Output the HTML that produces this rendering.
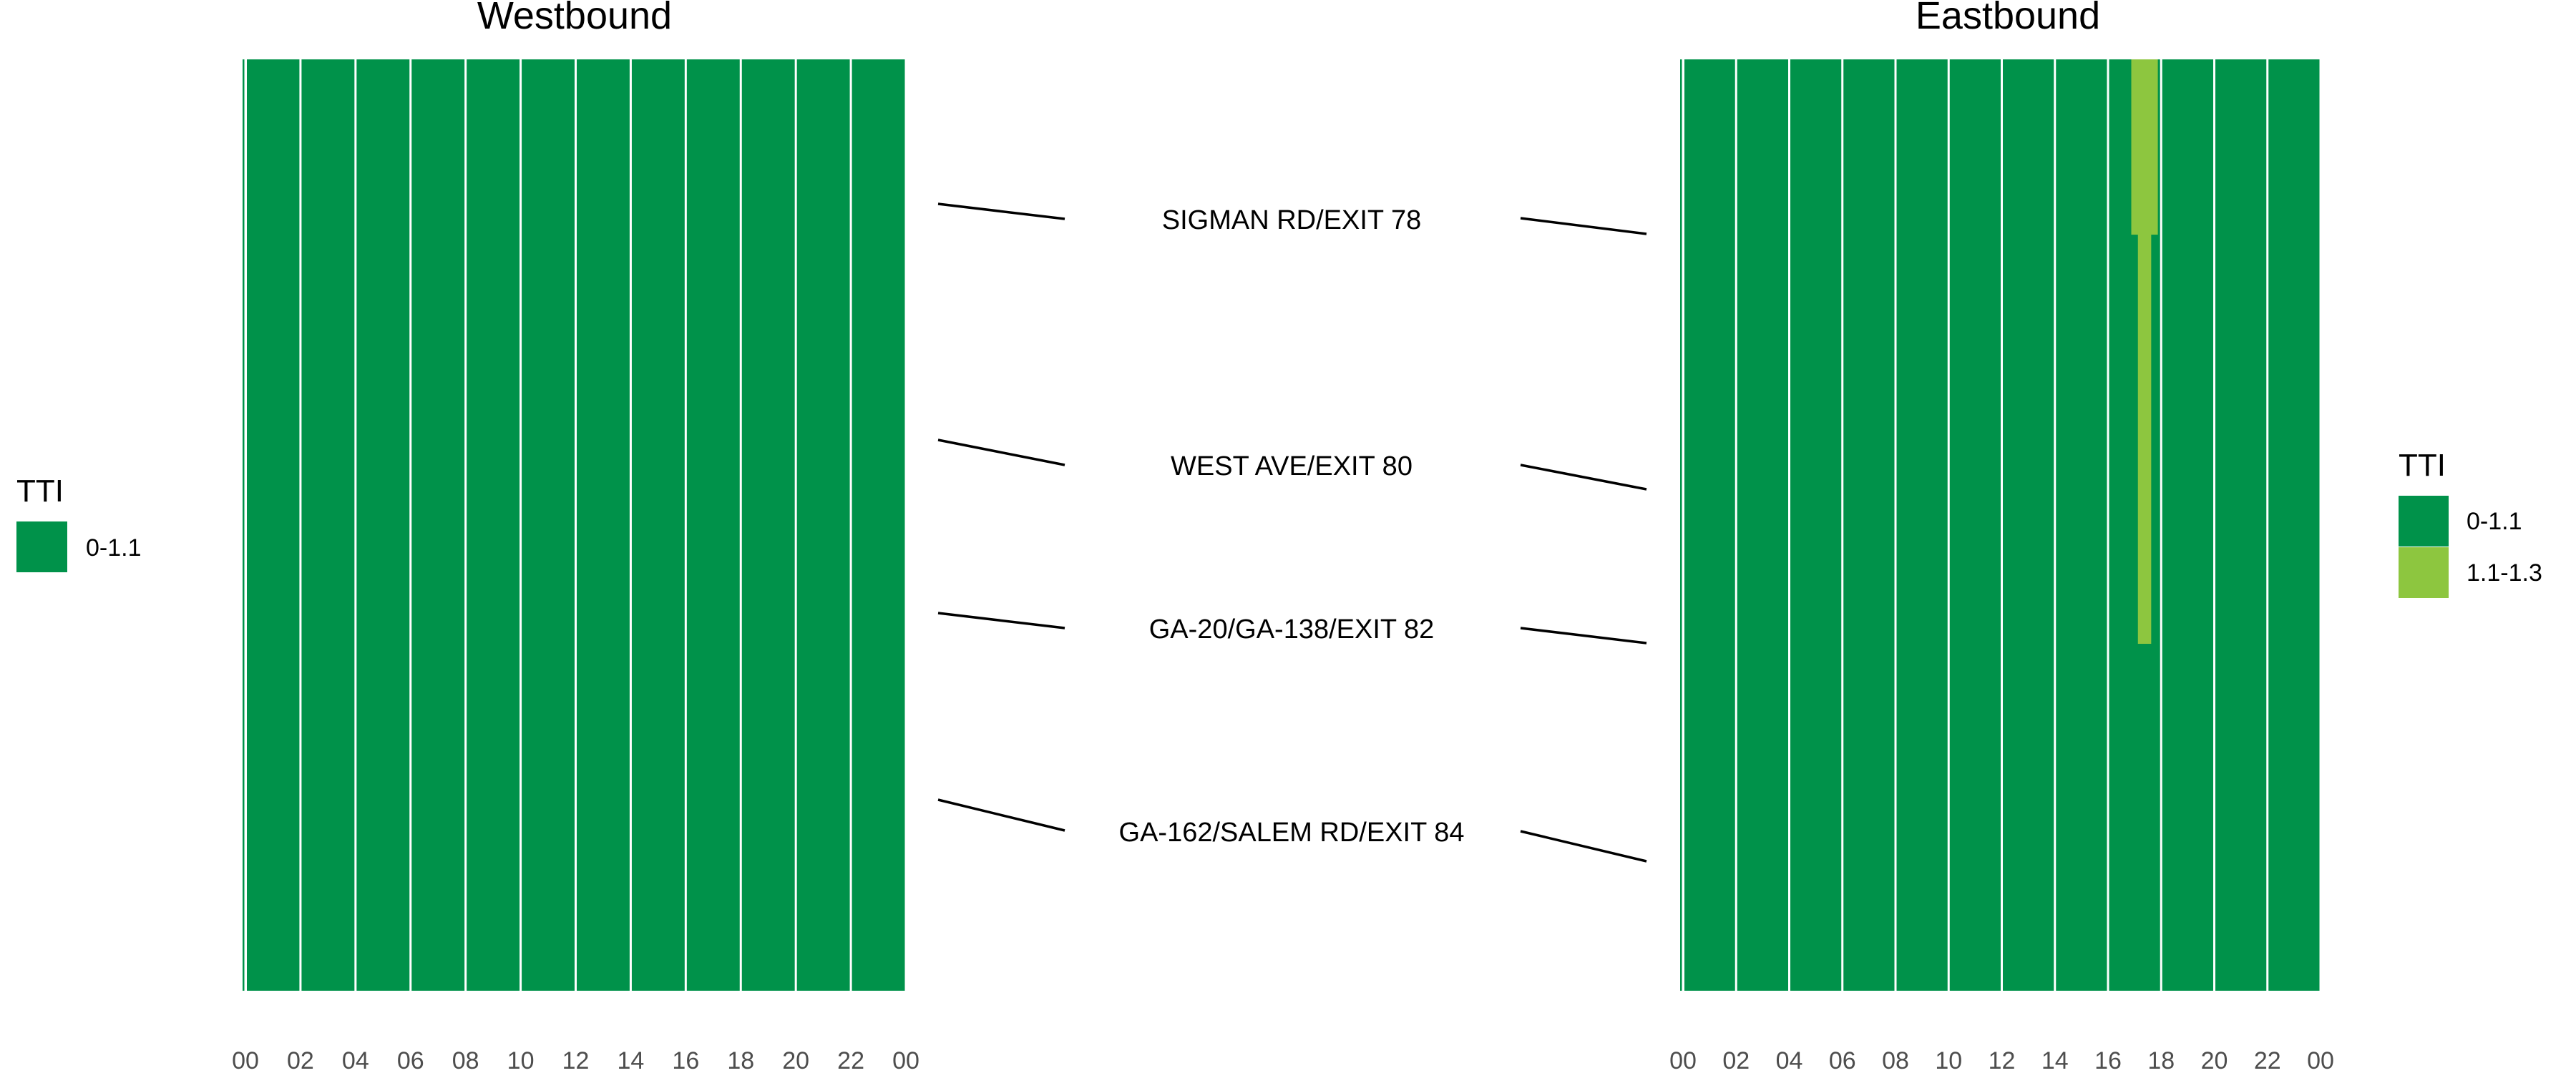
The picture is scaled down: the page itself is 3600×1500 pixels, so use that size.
<!DOCTYPE html>
<html><head><meta charset="utf-8">
<style>
html,body{margin:0;padding:0;background:#fff;}
svg{display:block;font-family:"Liberation Sans",Arial,sans-serif;}
</style></head>
<body>
<svg id="chart" width="3600" height="1500" viewBox="0 0 3600 1500" xmlns="http://www.w3.org/2000/svg">
<text x="803" y="40" font-size="54" text-anchor="middle" fill="#000">Westbound</text>
<text x="2806" y="40" font-size="54" text-anchor="middle" fill="#000">Eastbound</text>
<g id="west"></g>
<g id="east"></g>
<g id="labels"></g>
<g>
<text x="23" y="701" font-size="44" fill="#000">TTI</text>
<rect x="23" y="729" width="71" height="71" fill="#00924a"/>
<text x="120" y="777" font-size="34" fill="#000">0-1.1</text>
</g>
<g>
<text x="3352" y="665" font-size="44" fill="#000">TTI</text>
<rect x="3352" y="693" width="70" height="71" fill="#00924a"/>
<rect x="3352" y="765" width="70" height="71" fill="#8dc63f"/>
<text x="3447" y="740" font-size="34" fill="#000">0-1.1</text>
<text x="3447" y="812" font-size="34" fill="#000">1.1-1.3</text>
</g>
</svg>
<script>
const tickHours = [0,2,4,6,8,10,12,14,16,18,20,22,24];
const tickLabels = ["00","02","04","06","08","10","12","14","16","18","20","22","00"];
const blockStarts = [0,2,4,6,8,10,12,14,16,18,20,22];
const westCategory = [0,0,0,0,0,0,0,0,0,0,0,0];
const eastCategory = [0,0,0,0,0,0,0,0,0,0,0,0];
// highlighted cells (eastbound): hour start, hour end, y start %, y end %
const eastHiStart = [16.875, 17.125];
const eastHiEnd = [17.875, 17.625];
const eastHiYStart = [0, 18];
const eastHiYEnd = [18.82, 62.75];
const exitNames = ["SIGMAN RD/EXIT 78","WEST AVE/EXIT 80","GA-20/GA-138/EXIT 82","GA-162/SALEM RD/EXIT 84"];
const exitTextY = [307, 651, 879, 1163];
const westLinkY1 = [285, 615, 857, 1118];
const westLinkY2 = [306, 650, 878, 1161];
const eastLinkY1 = [305, 650, 878, 1162];
const eastLinkY2 = [327, 684, 899, 1204];

const colors = ["#00924a","#8dc63f"];
const NS = "http://www.w3.org/2000/svg";
const pTop = 83, pBottom = 1385;
function mk(tag, attrs, parent){const e=document.createElementNS(NS,tag);for(const k in attrs)e.setAttribute(k,attrs[k]);parent.appendChild(e);return e;}
function yScale(p){return pTop + (pBottom-pTop)*p/100;}

function panel(gid, x0, x24, cats, prefix){
  const g = document.getElementById(gid);
  const xs = h => x0 + (x24-x0)*h/24;
  const sl = mk('rect',{x:x0-4,y:pTop,width:2.5,height:pBottom-pTop,fill:colors[0]},g);
  
  
  blockStarts.forEach((h,i)=>{
    const a = xs(h)+(i===0?2:1.5), b = xs(h+2)-1.5;
    const r = mk('rect',{x:a,y:pTop,width:b-a,height:pBottom-pTop,fill:colors[cats[i]]},g);
    
    
  });
  tickHours.forEach((h,i)=>{
    const t = mk('text',{x:xs(h),y:1494,'font-size':34,'text-anchor':'middle',fill:'#4d4d4d'},g);
    t.textContent = tickLabels[i];
    
    
  });
  return xs;
}
panel('west', 343, 1266, westCategory, 'west');
const exs = panel('east', 2352, 3243, eastCategory, 'east');
const eg = document.getElementById('east');
eastHiStart.forEach((s,i)=>{
  const r = mk('rect',{x:exs(s),y:yScale(eastHiYStart[i]),width:exs(eastHiEnd[i])-exs(s),height:yScale(eastHiYEnd[i])-yScale(eastHiYStart[i]),fill:colors[1]},eg);
  
  
});
const lg = document.getElementById('labels');
exitNames.forEach((n,i)=>{
  const t = mk('text',{x:1805,y:exitTextY[i]+13,'font-size':38,'text-anchor':'middle',fill:'#000'},lg);
  t.textContent = n;
  
  
  const l1 = mk('line',{x1:1311,y1:westLinkY1[i],x2:1488,y2:westLinkY2[i],stroke:'#000','stroke-width':3.5},lg);
  
  
  const l2 = mk('line',{x1:2125,y1:eastLinkY1[i],x2:2301,y2:eastLinkY2[i],stroke:'#000','stroke-width':3.5},lg);
  
  
});
</script>
</body></html>
